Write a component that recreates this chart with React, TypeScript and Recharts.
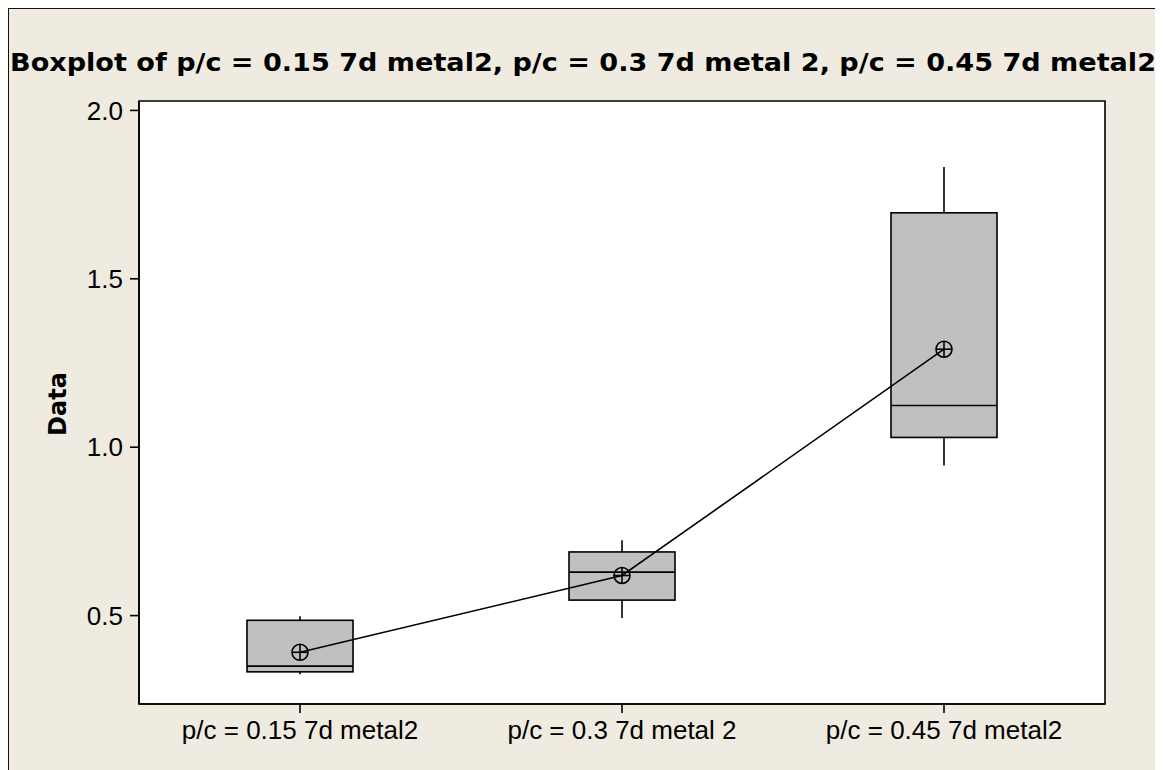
import React from "react";
import { ComposedChart, Bar, Line, XAxis, YAxis, ReferenceArea } from "recharts";

const categories = ["p/c = 0.15 7d metal2", "p/c = 0.3 7d metal 2", "p/c = 0.45 7d metal2"];
const whiskerLow = [0.326, 0.493, 0.946];
const q1 = [0.333, 0.546, 1.029];
const median = [0.35, 0.629, 1.124];
const q3 = [0.486, 0.689, 1.696];
const whiskerHigh = [0.498, 0.724, 1.832];
const means = [0.391, 0.619, 1.291];
const yTicks = [0.5, 1.0, 1.5, 2.0];
const yDomain = [0.2375, 2.028];

const TITLE_FONT = "'DejaVu Sans', Verdana, sans-serif";
const TICK_FONT = "'Liberation Sans', Arial, sans-serif";
const BG = "#EFEBE1";

const data = categories.map((name, i) => ({
  name,
  box: [q1[i], q3[i]],
  lo: whiskerLow[i],
  med: median[i],
  hi: whiskerHigh[i],
  q1: q1[i],
  q3: q3[i],
  mean: means[i],
}));

// box, median and whiskers, scaled off the bar's own q1..q3 pixels
function BoxShape(props: any) {
  const { x, y, width, height, payload } = props;
  if (x == null || y == null) return null;
  const top = Math.min(y, y + height);
  const h = Math.abs(height);
  const ppu = h / (payload.q3 - payload.q1);
  const yOf = (v: number) => top + (payload.q3 - v) * ppu;
  const cx = x + width / 2;
  return (
    <g stroke="#000" strokeWidth={1.6}>
      <line x1={cx} x2={cx} y1={yOf(payload.hi)} y2={top} />
      <line x1={cx} x2={cx} y1={top + h} y2={yOf(payload.lo)} />
      <rect x={x} y={top} width={width} height={h} fill="#C0C0C0" />
      <line x1={x} x2={x + width} y1={yOf(payload.med)} y2={yOf(payload.med)} />
    </g>
  );
}

function MeanDot(props: any) {
  const { cx, cy } = props;
  if (cx == null || cy == null) return null;
  const r = 8;
  return (
    <g stroke="#000" strokeWidth={1.6} fill="none">
      <circle cx={cx} cy={cy} r={r} />
      <line x1={cx - r} x2={cx + r} y1={cy} y2={cy} />
      <line x1={cx} x2={cx} y1={cy - r} y2={cy + r} />
    </g>
  );
}

export default function App() {
  return (
    <div
      style={{
        position: "relative",
        width: 1150,
        height: 800,
        boxSizing: "border-box",
        border: "1px solid #111",
        background: BG,
      }}
    >
      <svg width={1148} height={90} style={{ position: "absolute", left: 0, top: 0 }}>
        <text
          x={574}
          y={62}
          textAnchor="middle"
          fontFamily={TITLE_FONT}
          fontWeight="bold"
          fontSize={24}
          fill="#000"
          textLength={1146}
          lengthAdjust="spacingAndGlyphs"
        >
          Boxplot of p/c = 0.15 7d metal2, p/c = 0.3 7d metal 2, p/c = 0.45 7d metal2
        </text>
      </svg>
      <svg width={60} height={760} style={{ position: "absolute", left: 20, top: 0 }}>
        <text
          x={0}
          y={0}
          transform="translate(37 395) rotate(-90)"
          textAnchor="middle"
          fontFamily={TITLE_FONT}
          fontWeight="bold"
          fontSize={24}
          fill="#000"
        >
          Data
        </text>
      </svg>
      <ComposedChart
        width={1148}
        height={760}
        data={data}
        margin={{ top: 92, right: 52, bottom: 25, left: 0 }}
      >
        <XAxis
          dataKey="name"
          height={40}
          tickSize={9}
          tickMargin={8}
          tick={{ fill: "#000", fontSize: 26, fontFamily: TICK_FONT }}
          axisLine={{ stroke: "#000", strokeWidth: 1.6 }}
          tickLine={{ stroke: "#000", strokeWidth: 1.6 }}
        />
        <YAxis
          type="number"
          width={130}
          domain={yDomain}
          allowDataOverflow
          ticks={yTicks}
          tickFormatter={(v: number) => v.toFixed(1)}
          tickSize={9}
          tickMargin={7}
          tick={{ fill: "#000", fontSize: 26, fontFamily: TICK_FONT }}
          axisLine={{ stroke: "#000", strokeWidth: 1.6 }}
          tickLine={{ stroke: "#000", strokeWidth: 1.6 }}
        />
        <ReferenceArea
          x1={categories[0]}
          x2={categories[categories.length - 1]}
          y1={yDomain[0]}
          y2={yDomain[1]}
          fill="#FFFFFF"
          fillOpacity={1}
          stroke="#000"
          strokeWidth={1.6}
        />
        <Bar dataKey="box" barSize={106} shape={<BoxShape />} isAnimationActive={false} />
        <Line
          type="linear"
          dataKey="mean"
          stroke="#000"
          strokeWidth={1.6}
          dot={<MeanDot />}
          activeDot={false}
          isAnimationActive={false}
        />
      </ComposedChart>
    </div>
  );
}
